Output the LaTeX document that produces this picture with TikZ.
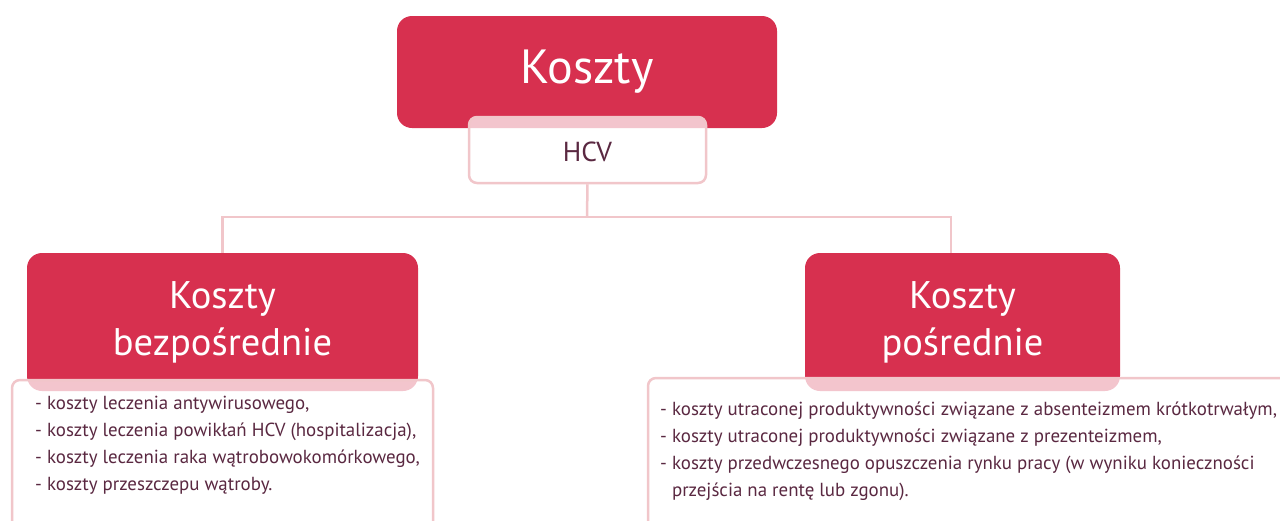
\documentclass[tikz,border=0pt]{standalone}
\usepackage{fontspec}
\setmainfont{PT Sans}
\definecolor{costred}{HTML}{D7304F}
\definecolor{linepink}{HTML}{F1C6CA}
\definecolor{textplum}{HTML}{5A2841}
\tikzset{
  redbox/.style={rectangle, rounded corners=15pt, fill=costred, draw=none,
    text=white, align=center, inner sep=0pt},
  listbox/.style={rectangle, rounded corners=8pt, fill=white, fill opacity=0.72,
    draw=linepink, draw opacity=1, line width=2.5pt, inner sep=0pt},
  listtext/.style={anchor=north west, align=left, inner sep=0pt, text=textplum,
    font=\fontsize{18.9}{27}\selectfont},
  conn/.style={draw=linepink, line width=2.5pt},
}
\begin{document}
\begin{tikzpicture}[x=1pt,y=-1pt]
\useasboundingbox (0,0) rectangle (1280,520);

% main heading and its subtitle
\node[redbox, minimum width=380pt, minimum height=112pt,
  font=\fontsize{48}{48}\selectfont] (top) at (587,72) {Koszty};
\node[listbox, minimum width=237pt, minimum height=66pt] (hcv) at (587.5,150) {};
\node[text=textplum, font=\fontsize{27.5}{27.5}\selectfont, inner sep=0pt] (hcvt) at (587.5,152) {HCV};

% the two cost groups
\node[redbox, minimum width=391pt, minimum height=138pt,
  font=\fontsize{38.5}{47}\selectfont] (left) at (222.5,322) {Koszty\\bezpośrednie};
\node[redbox, minimum width=315pt, minimum height=138pt,
  font=\fontsize{38.5}{47}\selectfont] (right) at (962.5,322) {Koszty\\pośrednie};

% branch lines from HCV down to both groups
\coordinate (bus) at (587,217);
\coordinate (lj) at (222.5,217);
\coordinate (rj) at (951,217);
\draw[conn] (hcv.south) -- (bus);
\draw[conn] (left.north) -- (lj) -- (rj) -- (rj |- right.north);

% detail lists
\node[listbox, minimum width=421pt, minimum height=150pt] (lbox) at (222.5,455) {};
\node[listbox, minimum width=652pt, minimum height=152pt] (rbox) at (974,454) {};

\node[listtext] (ltext) at (35,395.5) {%
- koszty leczenia antywirusowego,\\
- koszty leczenia powikłań HCV (hospitalizacja),\\
- koszty leczenia raka wątrobowokomórkowego,\\
- koszty przeszczepu wątroby.};

\node[listtext] (rtext) at (660,401.5) {%
- koszty utraconej produktywności związane z absenteizmem krótkotrwałym,\\
- koszty utraconej produktywności związane z prezenteizmem,\\
- koszty przedwczesnego opuszczenia rynku pracy (w wyniku konieczności\\
\hphantom{- }przejścia na rentę lub zgonu).};
\end{tikzpicture}
\end{document}
